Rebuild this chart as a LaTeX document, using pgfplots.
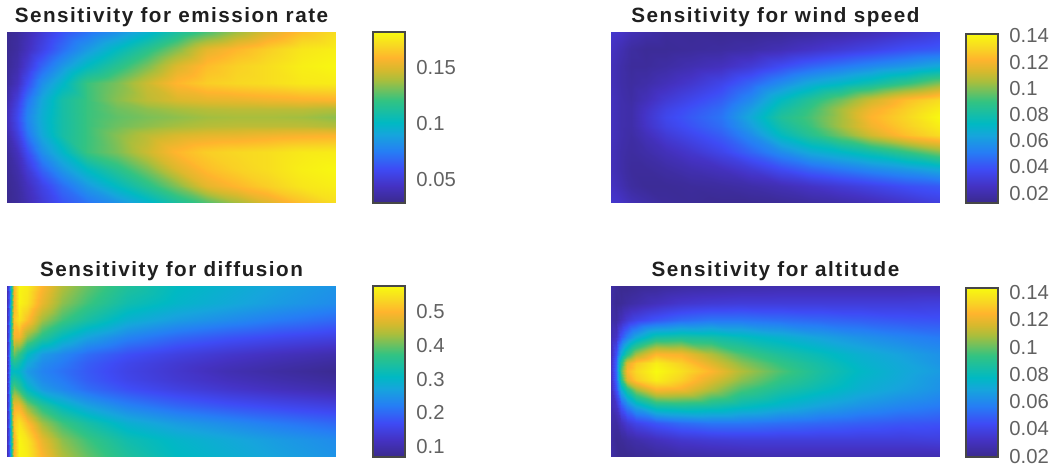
\documentclass[border=0pt]{standalone}
\usepackage{fontspec}
\setmainfont{Liberation Sans}
\newfontfamily\titlefont[LetterSpace=7.3]{Liberation Sans}
\usepackage{pgfplots}
\pgfplotsset{compat=1.18}

% parula-like map, positions in percent of the bar
\pgfplotsset{
  colormap={parula}{
    rgb255(0pt)=(58,42,140) rgb255(10pt)=(68,50,195) rgb255(20pt)=(62,75,245)
    rgb255(30pt)=(38,125,245) rgb255(40pt)=(22,165,220) rgb255(47pt)=(0,185,195)
    rgb255(60pt)=(50,195,130) rgb255(72pt)=(170,190,60) rgb255(78pt)=(215,185,45)
    rgb255(85pt)=(255,180,45) rgb255(92pt)=(248,215,35) rgb255(100pt)=(248,250,15)
  },
  panel/.style={
    at={#1}, anchor=south west,
    scale only axis, width=246.75pt, height=128.25pt,
    view={0}{90},
    xmin=0, xmax=329, ymin=0, ymax=10,
    ticks=none, axis line style={draw=none},
    title style={font=\titlefont\fontsize{15.5}{18}\selectfont\bfseries, color=black!88,
      at={(0.5,1)}, anchor=base, yshift=1.2pt},
  },
  bar/.style={
    at={#1}, anchor=south west,
    scale only axis, width=24pt,
    xmin=0, xmax=1, xtick=\empty,
    ytick pos=right,
    major tick length=0pt,
    axis on top,
    axis line style={draw=black!72, line width=1pt},
    yticklabel style={font=\fontsize{15.2}{18}\selectfont, color=black!62, anchor=west, xshift=5pt},
  },
  barfill/.style={surf, shader=interp, mesh/cols=2, mesh/ordering=x varies, point meta=y},
  heat/.style={surf, shader=interp, mesh/cols=14, mesh/ordering=x varies},
}

\begin{document}
\begin{tikzpicture}
\path[use as bounding box] (0pt,0pt) rectangle (798pt,352.5pt);

\begin{axis}[panel={(5.25pt,200.25pt)},
  title={Sensitivity for emission rate},
  point meta min=0.0295, point meta max=0.182,
]
\addplot3[heat] coordinates {
(0,0,0.031)(10,0,0.034)(20,0,0.040)(35,0,0.050)(55,0,0.062)(80,0,0.072)(110,0,0.083)(140,0,0.097)(170,0,0.112)(200,0,0.125)(230,0,0.138)(260,0,0.150)(295,0,0.163)(329,0,0.172)
(0,1,0.031)(10,1,0.035)(20,1,0.043)(35,1,0.055)(55,1,0.070)(80,1,0.086)(110,1,0.102)(140,1,0.117)(170,1,0.133)(200,1,0.152)(230,1,0.160)(260,1,0.167)(295,1,0.175)(329,1,0.178)
(0,2,0.032)(10,2,0.038)(20,2,0.050)(35,2,0.068)(55,2,0.085)(80,2,0.102)(110,2,0.117)(140,2,0.132)(170,2,0.150)(200,2,0.162)(230,2,0.168)(260,2,0.172)(295,2,0.178)(329,2,0.181)
(0,3,0.034)(10,3,0.043)(20,3,0.060)(35,3,0.082)(55,3,0.099)(80,3,0.122)(110,3,0.132)(140,3,0.146)(170,3,0.160)(200,3,0.167)(230,3,0.170)(260,3,0.172)(295,3,0.176)(329,3,0.177)
(0,4,0.038)(10,4,0.052)(20,4,0.072)(35,4,0.092)(55,4,0.110)(80,4,0.122)(110,4,0.134)(140,4,0.143)(170,4,0.149)(200,4,0.152)(230,4,0.153)(260,4,0.155)(295,4,0.157)(329,4,0.158)
(0,4.5,0.041)(10,4.5,0.056)(20,4.5,0.076)(35,4.5,0.094)(55,4.5,0.110)(80,4.5,0.122)(110,4.5,0.130)(140,4.5,0.135)(170,4.5,0.139)(200,4.5,0.142)(230,4.5,0.143)(260,4.5,0.143)(295,4.5,0.143)(329,4.5,0.141)
(0,5,0.042)(10,5,0.058)(20,5,0.078)(35,5,0.095)(55,5,0.110)(80,5,0.122)(110,5,0.128)(140,5,0.132)(170,5,0.135)(200,5,0.138)(230,5,0.139)(260,5,0.139)(295,5,0.138)(329,5,0.135)
(0,5.5,0.041)(10,5.5,0.056)(20,5.5,0.076)(35,5.5,0.094)(55,5.5,0.110)(80,5.5,0.122)(110,5.5,0.130)(140,5.5,0.135)(170,5.5,0.139)(200,5.5,0.142)(230,5.5,0.143)(260,5.5,0.143)(295,5.5,0.143)(329,5.5,0.141)
(0,6,0.038)(10,6,0.052)(20,6,0.072)(35,6,0.092)(55,6,0.110)(80,6,0.122)(110,6,0.134)(140,6,0.143)(170,6,0.149)(200,6,0.152)(230,6,0.153)(260,6,0.155)(295,6,0.157)(329,6,0.158)
(0,7,0.034)(10,7,0.043)(20,7,0.060)(35,7,0.082)(55,7,0.099)(80,7,0.122)(110,7,0.132)(140,7,0.146)(170,7,0.160)(200,7,0.167)(230,7,0.170)(260,7,0.172)(295,7,0.176)(329,7,0.177)
(0,8,0.032)(10,8,0.038)(20,8,0.050)(35,8,0.068)(55,8,0.085)(80,8,0.102)(110,8,0.117)(140,8,0.132)(170,8,0.150)(200,8,0.162)(230,8,0.168)(260,8,0.172)(295,8,0.178)(329,8,0.181)
(0,9,0.031)(10,9,0.035)(20,9,0.043)(35,9,0.055)(55,9,0.070)(80,9,0.086)(110,9,0.102)(140,9,0.117)(170,9,0.133)(200,9,0.152)(230,9,0.160)(260,9,0.167)(295,9,0.175)(329,9,0.178)
(0,10,0.031)(10,10,0.034)(20,10,0.040)(35,10,0.050)(55,10,0.062)(80,10,0.072)(110,10,0.083)(140,10,0.097)(170,10,0.112)(200,10,0.125)(230,10,0.138)(260,10,0.150)(295,10,0.163)(329,10,0.172)
};
\end{axis}
\begin{axis}[bar={(279.75pt,200.25pt)}, height=128.25pt,
  ymin=0.0295, ymax=0.182,
  ytick={0.05,0.1,0.15}, yticklabels={0.05,0.1,0.15},
]
\addplot[barfill] coordinates {(0,0.0295)(1,0.0295)(0,0.182)(1,0.182)};
\end{axis}

\begin{axis}[panel={(458.25pt,200.25pt)},
  title={Sensitivity for wind speed},
  point meta min=0.0124, point meta max=0.1415,
]
\addplot3[heat] coordinates {
(0,0,0.028)(10,0,0.026)(20,0,0.022)(35,0,0.019)(55,0,0.016)(80,0,0.015)(110,0,0.014)(140,0,0.014)(170,0,0.015)(200,0,0.017)(230,0,0.019)(260,0,0.022)(295,0,0.027)(329,0,0.032)
(0,1,0.025)(10,1,0.021)(20,1,0.017)(35,1,0.015)(55,1,0.015)(80,1,0.016)(110,1,0.017)(140,1,0.019)(170,1,0.022)(200,1,0.026)(230,1,0.030)(260,1,0.034)(295,1,0.039)(329,1,0.042)
(0,2,0.023)(10,2,0.019)(20,2,0.016)(35,2,0.016)(55,2,0.018)(80,2,0.021)(110,2,0.024)(140,2,0.030)(170,2,0.038)(200,2,0.045)(230,2,0.050)(260,2,0.055)(295,2,0.060)(329,2,0.066)
(0,3,0.023)(10,3,0.019)(20,3,0.017)(35,3,0.019)(55,3,0.023)(80,3,0.028)(110,3,0.035)(140,3,0.045)(170,3,0.056)(200,3,0.066)(230,3,0.072)(260,3,0.079)(295,3,0.089)(329,3,0.100)
(0,4,0.024)(10,4,0.020)(20,4,0.018)(35,4,0.023)(55,4,0.030)(80,4,0.036)(110,4,0.043)(140,4,0.056)(170,4,0.074)(200,4,0.086)(230,4,0.098)(260,4,0.112)(295,4,0.125)(329,4,0.133)
(0,4.5,0.024)(10,4.5,0.020)(20,4.5,0.019)(35,4.5,0.026)(55,4.5,0.034)(80,4.5,0.040)(110,4.5,0.047)(140,4.5,0.062)(170,4.5,0.080)(200,4.5,0.091)(230,4.5,0.105)(260,4.5,0.119)(295,4.5,0.129)(329,4.5,0.138)
(0,5,0.024)(10,5,0.020)(20,5,0.019)(35,5,0.027)(55,5,0.036)(80,5,0.042)(110,5,0.049)(140,5,0.066)(170,5,0.084)(200,5,0.093)(230,5,0.105)(260,5,0.122)(295,5,0.131)(329,5,0.1415)
(0,5.5,0.024)(10,5.5,0.020)(20,5.5,0.019)(35,5.5,0.026)(55,5.5,0.034)(80,5.5,0.040)(110,5.5,0.047)(140,5.5,0.062)(170,5.5,0.080)(200,5.5,0.091)(230,5.5,0.105)(260,5.5,0.119)(295,5.5,0.129)(329,5.5,0.138)
(0,6,0.024)(10,6,0.020)(20,6,0.018)(35,6,0.023)(55,6,0.030)(80,6,0.036)(110,6,0.043)(140,6,0.056)(170,6,0.074)(200,6,0.086)(230,6,0.098)(260,6,0.112)(295,6,0.125)(329,6,0.133)
(0,7,0.023)(10,7,0.019)(20,7,0.017)(35,7,0.019)(55,7,0.023)(80,7,0.028)(110,7,0.035)(140,7,0.045)(170,7,0.056)(200,7,0.066)(230,7,0.072)(260,7,0.079)(295,7,0.089)(329,7,0.100)
(0,8,0.023)(10,8,0.019)(20,8,0.016)(35,8,0.016)(55,8,0.018)(80,8,0.021)(110,8,0.024)(140,8,0.030)(170,8,0.038)(200,8,0.045)(230,8,0.050)(260,8,0.055)(295,8,0.060)(329,8,0.066)
(0,9,0.025)(10,9,0.021)(20,9,0.017)(35,9,0.015)(55,9,0.015)(80,9,0.016)(110,9,0.017)(140,9,0.019)(170,9,0.022)(200,9,0.026)(230,9,0.030)(260,9,0.034)(295,9,0.039)(329,9,0.042)
(0,10,0.028)(10,10,0.026)(20,10,0.022)(35,10,0.019)(55,10,0.016)(80,10,0.015)(110,10,0.014)(140,10,0.014)(170,10,0.015)(200,10,0.017)(230,10,0.019)(260,10,0.022)(295,10,0.027)(329,10,0.032)
};
\end{axis}
\begin{axis}[bar={(724.5pt,200.25pt)}, height=126.75pt,
  ymin=0.0124, ymax=0.1415,
  ytick={0.02,0.04,0.06,0.08,0.1,0.12,0.14}, yticklabels={0.02,0.04,0.06,0.08,0.1,0.12,0.14},
]
\addplot[barfill] coordinates {(0,0.0124)(1,0.0124)(0,0.1415)(1,0.1415)};
\end{axis}

\begin{axis}[panel={(5.25pt,9.75pt)},
  title={Sensitivity for diffusion},
  point meta min=0.0695, point meta max=0.576,
]
\addplot3[heat] coordinates {
(0,0,0.11)(2,0,0.17)(4,0,0.32)(7,0,0.50)(12,0,0.57)(20,0,0.56)(35,0,0.50)(55,0,0.44)(80,0,0.40)(120,0,0.35)(170,0,0.31)(220,0,0.29)(270,0,0.27)(329,0,0.25)
(0,1,0.11)(2,1,0.18)(4,1,0.33)(7,1,0.50)(12,1,0.57)(20,1,0.55)(35,1,0.48)(55,1,0.42)(80,1,0.38)(120,1,0.33)(170,1,0.30)(220,1,0.28)(270,1,0.26)(329,1,0.24)
(0,2,0.11)(2,2,0.19)(4,2,0.35)(7,2,0.52)(12,2,0.55)(20,2,0.51)(35,2,0.43)(55,2,0.38)(80,2,0.34)(120,2,0.29)(170,2,0.26)(220,2,0.24)(270,2,0.22)(329,2,0.20)
(0,3,0.11)(2,3,0.20)(4,3,0.37)(7,3,0.49)(12,3,0.49)(20,3,0.42)(35,3,0.36)(55,3,0.31)(80,3,0.27)(120,3,0.23)(170,3,0.20)(220,3,0.18)(270,3,0.165)(329,3,0.15)
(0,4,0.11)(2,4,0.20)(4,4,0.36)(7,4,0.40)(12,4,0.37)(20,4,0.31)(35,4,0.26)(55,4,0.235)(80,4,0.205)(120,4,0.175)(170,4,0.15)(220,4,0.13)(270,4,0.115)(329,4,0.10)
(0,4.5,0.11)(2,4.5,0.20)(4,4.5,0.33)(7,4.5,0.35)(12,4.5,0.33)(20,4.5,0.28)(35,4.5,0.24)(55,4.5,0.22)(80,4.5,0.19)(120,4.5,0.16)(170,4.5,0.135)(220,4.5,0.115)(270,4.5,0.10)(329,4.5,0.085)
(0,5,0.11)(2,5,0.20)(4,5,0.30)(7,5,0.31)(12,5,0.30)(20,5,0.26)(35,5,0.23)(55,5,0.21)(80,5,0.185)(120,5,0.155)(170,5,0.13)(220,5,0.105)(270,5,0.09)(329,5,0.075)
(0,5.5,0.11)(2,5.5,0.20)(4,5.5,0.33)(7,5.5,0.35)(12,5.5,0.33)(20,5.5,0.28)(35,5.5,0.24)(55,5.5,0.22)(80,5.5,0.19)(120,5.5,0.16)(170,5.5,0.135)(220,5.5,0.115)(270,5.5,0.10)(329,5.5,0.085)
(0,6,0.11)(2,6,0.20)(4,6,0.36)(7,6,0.40)(12,6,0.37)(20,6,0.31)(35,6,0.26)(55,6,0.235)(80,6,0.205)(120,6,0.175)(170,6,0.15)(220,6,0.13)(270,6,0.115)(329,6,0.10)
(0,7,0.11)(2,7,0.20)(4,7,0.37)(7,7,0.49)(12,7,0.49)(20,7,0.42)(35,7,0.36)(55,7,0.31)(80,7,0.27)(120,7,0.23)(170,7,0.20)(220,7,0.18)(270,7,0.165)(329,7,0.15)
(0,8,0.11)(2,8,0.19)(4,8,0.35)(7,8,0.52)(12,8,0.55)(20,8,0.51)(35,8,0.43)(55,8,0.38)(80,8,0.34)(120,8,0.29)(170,8,0.26)(220,8,0.24)(270,8,0.22)(329,8,0.20)
(0,9,0.11)(2,9,0.18)(4,9,0.33)(7,9,0.50)(12,9,0.57)(20,9,0.55)(35,9,0.48)(55,9,0.42)(80,9,0.38)(120,9,0.33)(170,9,0.30)(220,9,0.28)(270,9,0.26)(329,9,0.24)
(0,10,0.11)(2,10,0.17)(4,10,0.32)(7,10,0.50)(12,10,0.57)(20,10,0.56)(35,10,0.50)(55,10,0.44)(80,10,0.40)(120,10,0.35)(170,10,0.31)(220,10,0.29)(270,10,0.27)(329,10,0.25)
};
\end{axis}
\begin{axis}[bar={(279.75pt,9.75pt)}, height=128.25pt,
  ymin=0.0695, ymax=0.576,
  ytick={0.1,0.2,0.3,0.4,0.5}, yticklabels={0.1,0.2,0.3,0.4,0.5},
]
\addplot[barfill] coordinates {(0,0.0695)(1,0.0695)(0,0.576)(1,0.576)};
\end{axis}

\begin{axis}[panel={(458.25pt,9.75pt)},
  title={Sensitivity for altitude},
  point meta min=0.0193, point meta max=0.1435,
]
\addplot3[heat] coordinates {
(0,0,0.025)(5,0,0.022)(10,0,0.020)(16,0,0.020)(25,0,0.021)(45,0,0.022)(70,0,0.024)(100,0,0.025)(130,0,0.026)(170,0,0.027)(210,0,0.027)(250,0,0.027)(290,0,0.027)(329,0,0.027)
(0,1,0.024)(5,1,0.021)(10,1,0.022)(16,1,0.024)(25,1,0.026)(45,1,0.030)(70,1,0.034)(100,1,0.036)(130,1,0.037)(170,1,0.037)(210,1,0.037)(250,1,0.037)(290,1,0.037)(329,1,0.038)
(0,2,0.025)(5,2,0.024)(10,2,0.030)(16,2,0.036)(25,2,0.041)(45,2,0.047)(70,2,0.052)(100,2,0.055)(130,2,0.055)(170,2,0.053)(210,2,0.051)(250,2,0.049)(290,2,0.047)(329,2,0.046)
(0,3,0.028)(5,3,0.032)(10,3,0.047)(16,3,0.058)(25,3,0.070)(45,3,0.085)(70,3,0.087)(100,3,0.085)(130,3,0.080)(170,3,0.074)(210,3,0.068)(250,3,0.063)(290,3,0.059)(329,3,0.056)
(0,4,0.030)(5,4,0.045)(10,4,0.072)(16,4,0.090)(25,4,0.108)(45,4,0.125)(70,4,0.123)(100,4,0.110)(130,4,0.097)(170,4,0.087)(210,4,0.080)(250,4,0.073)(290,4,0.068)(329,4,0.063)
(0,4.5,0.032)(5,4.5,0.050)(10,4.5,0.090)(16,4.5,0.118)(25,4.5,0.130)(45,4.5,0.140)(70,4.5,0.132)(100,4.5,0.118)(130,4.5,0.105)(170,4.5,0.093)(210,4.5,0.084)(250,4.5,0.075)(290,4.5,0.070)(329,4.5,0.064)
(0,5,0.033)(5,5,0.052)(10,5,0.098)(16,5,0.125)(25,5,0.134)(45,5,0.1435)(70,5,0.136)(100,5,0.125)(130,5,0.110)(170,5,0.097)(210,5,0.086)(250,5,0.077)(290,5,0.071)(329,5,0.066)
(0,5.5,0.032)(5,5.5,0.050)(10,5.5,0.090)(16,5.5,0.118)(25,5.5,0.130)(45,5.5,0.140)(70,5.5,0.132)(100,5.5,0.118)(130,5.5,0.105)(170,5.5,0.093)(210,5.5,0.084)(250,5.5,0.075)(290,5.5,0.070)(329,5.5,0.064)
(0,6,0.030)(5,6,0.045)(10,6,0.072)(16,6,0.090)(25,6,0.108)(45,6,0.125)(70,6,0.123)(100,6,0.110)(130,6,0.097)(170,6,0.087)(210,6,0.080)(250,6,0.073)(290,6,0.068)(329,6,0.063)
(0,7,0.028)(5,7,0.032)(10,7,0.047)(16,7,0.058)(25,7,0.070)(45,7,0.085)(70,7,0.087)(100,7,0.085)(130,7,0.080)(170,7,0.074)(210,7,0.068)(250,7,0.063)(290,7,0.059)(329,7,0.056)
(0,8,0.025)(5,8,0.024)(10,8,0.030)(16,8,0.036)(25,8,0.041)(45,8,0.047)(70,8,0.052)(100,8,0.055)(130,8,0.055)(170,8,0.053)(210,8,0.051)(250,8,0.049)(290,8,0.047)(329,8,0.046)
(0,9,0.024)(5,9,0.021)(10,9,0.022)(16,9,0.024)(25,9,0.026)(45,9,0.030)(70,9,0.034)(100,9,0.036)(130,9,0.037)(170,9,0.037)(210,9,0.037)(250,9,0.037)(290,9,0.037)(329,9,0.038)
(0,10,0.025)(5,10,0.022)(10,10,0.020)(16,10,0.020)(25,10,0.021)(45,10,0.022)(70,10,0.024)(100,10,0.025)(130,10,0.026)(170,10,0.027)(210,10,0.027)(250,10,0.027)(290,10,0.027)(329,10,0.027)
};
\end{axis}
\begin{axis}[bar={(724.5pt,9.75pt)}, height=126.75pt,
  ymin=0.0193, ymax=0.1435,
  ytick={0.02,0.04,0.06,0.08,0.1,0.12,0.14}, yticklabels={0.02,0.04,0.06,0.08,0.1,0.12,0.14},
]
\addplot[barfill] coordinates {(0,0.0193)(1,0.0193)(0,0.1435)(1,0.1435)};
\end{axis}
\end{tikzpicture}
\end{document}
